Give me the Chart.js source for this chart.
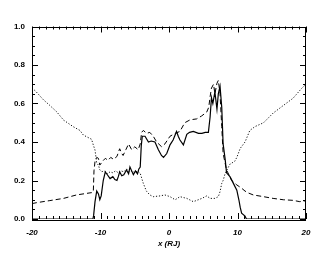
<!DOCTYPE html>
<html>
<head>
<meta charset="utf-8">
<script src="https://cdn.jsdelivr.net/npm/chart.js@4/dist/chart.umd.min.js"></script>
<style>
html,body{margin:0;padding:0;background:#fff;}
#wrap{width:332px;height:261px;}
</style>
</head>
<body>
<div id="wrap"><canvas id="c" width="332" height="261"></canvas></div>
<script>
// x tick labels and y tick labels
const xTickValues = [-20, -10, 0, 10, 20];
const yTickValues = [0.0, 0.2, 0.4, 0.6, 0.8, 1.0];
const xAxisTitle = 'x (RJ)';

// Solid series
const solidX = [-20,-11.1,-11.0,-10.8,-10.55,-10.3,-10.1,-9.9,-9.6,-9.3,-9.0,-8.6,-8.2,-7.9,-7.6,-7.4,-7.2,-6.9,-6.6,-6.2,-5.9,-5.7,-5.45,-5.2,-4.9,-4.6,-4.4,-4.2,-4.05,-3.9,-3.5,-3.0,-2.6,-2.05,-1.55,-1.1,-0.8,-0.33,0.15,0.6,1.1,1.35,1.6,2.1,2.6,3.0,3.55,4.3,4.8,5.3,5.75,6.0,6.2,6.4,6.7,7.0,7.2,7.45,7.7,7.9,8.2,8.4,8.9,9.4,9.9,10.2,10.4,10.6,11.1,11.3,20];
const solidY = [0,0,0.02,0.09,0.145,0.13,0.10,0.12,0.20,0.245,0.23,0.21,0.22,0.205,0.20,0.22,0.245,0.225,0.23,0.255,0.235,0.27,0.25,0.23,0.25,0.235,0.26,0.27,0.38,0.43,0.43,0.40,0.405,0.40,0.36,0.33,0.32,0.34,0.385,0.41,0.455,0.43,0.41,0.385,0.44,0.45,0.455,0.445,0.445,0.45,0.45,0.53,0.63,0.60,0.66,0.57,0.65,0.69,0.58,0.39,0.31,0.24,0.22,0.185,0.15,0.10,0.06,0.03,0.015,0,0];

// Dashed series
const dashedX = [-20,-19.3,-17.5,-15.4,-13.5,-11.3,-11.05,-10.95,-10.8,-10.55,-10.3,-10.1,-9.7,-9.3,-8.9,-8.5,-8.1,-7.6,-7.2,-6.9,-6.7,-6.3,-5.9,-5.45,-5.0,-4.5,-4.2,-4.0,-3.75,-3.25,-2.8,-2.3,-1.8,-1.07,-0.6,0.15,0.9,1.6,2.3,3.07,4.04,4.75,5.5,5.8,6.0,6.2,6.5,6.7,7.0,7.2,7.45,7.7,7.9,8.4,9.15,9.9,10.6,11.1,11.6,12.3,13.8,15.2,16.7,18.1,19.1,20];
const dashedY = [0.08,0.085,0.095,0.107,0.125,0.137,0.14,0.25,0.30,0.32,0.315,0.28,0.30,0.315,0.305,0.32,0.31,0.325,0.365,0.34,0.33,0.36,0.39,0.36,0.375,0.36,0.39,0.45,0.46,0.445,0.45,0.43,0.40,0.375,0.39,0.43,0.445,0.455,0.50,0.515,0.52,0.535,0.555,0.58,0.635,0.68,0.70,0.65,0.705,0.72,0.65,0.48,0.34,0.255,0.20,0.177,0.16,0.145,0.135,0.125,0.116,0.107,0.10,0.097,0.09,0.095];

// Dotted series
const dottedX = [-20,-19.5,-18.35,-17.4,-16.4,-15.4,-14.0,-13.0,-12.5,-11.3,-11.1,-10.8,-10.55,-10.3,-10.1,-9.8,-9.4,-9.0,-8.6,-8.2,-7.8,-7.4,-7.0,-6.6,-6.2,-5.8,-5.4,-5.0,-4.6,-4.2,-3.75,-3.3,-2.8,-2.3,-1.3,-0.6,0.15,0.9,1.6,2.6,3.55,4.8,5.5,6.0,6.7,7.2,7.45,7.7,7.9,8.2,8.9,9.6,9.9,10.4,11.1,11.8,12.55,13.8,15.2,16.7,18.1,19.4,20];
const dottedY = [0.68,0.665,0.62,0.59,0.557,0.514,0.48,0.46,0.436,0.414,0.39,0.358,0.29,0.28,0.255,0.246,0.25,0.235,0.245,0.24,0.25,0.24,0.25,0.245,0.26,0.245,0.25,0.24,0.25,0.237,0.185,0.145,0.125,0.116,0.12,0.125,0.116,0.10,0.116,0.107,0.09,0.107,0.12,0.107,0.107,0.116,0.142,0.185,0.20,0.237,0.285,0.30,0.32,0.367,0.40,0.46,0.48,0.50,0.55,0.59,0.627,0.68,0.70];

function pts(xs, ys){ return xs.map((x,i)=>({x:x, y:ys[i]})); }

const LEFT = 32, RIGHT = 306, TOP = 26.5, BOTTOM = 219;

const framePlugin = {
  id: 'frame',
  afterDatasetsDraw(chart){
    const ctx = chart.ctx, a = chart.chartArea;
    const xs = chart.scales.x, ys = chart.scales.y;
    ctx.save();
    ctx.strokeStyle = '#000';
    ctx.lineWidth = 1;
    ctx.setLineDash([]);
    ctx.strokeRect(Math.round(a.left)+0.5, Math.round(a.top)+0.5, Math.round(a.right-a.left)-1, Math.round(a.bottom-a.top));
    ctx.beginPath();
    for (let v = -20; v <= 20; v += 1) {
      const px = Math.round(xs.getPixelForValue(v)) + 0.5;
      const len = (v % 10 === 0) ? 6 : 3;
      ctx.moveTo(px, a.bottom); ctx.lineTo(px, a.bottom - len);
      ctx.moveTo(px, a.top); ctx.lineTo(px, a.top + len);
    }
    for (let k = 0; k <= 20; k++) {
      const v = k * 0.05;
      const py = Math.round(ys.getPixelForValue(v)) + 0.5;
      const len = (k % 4 === 0) ? 6 : 3;
      ctx.moveTo(a.left, py); ctx.lineTo(a.left + len, py);
      ctx.moveTo(a.right, py); ctx.lineTo(a.right - len, py);
    }
    ctx.stroke();
    ctx.restore();
  }
};

new Chart(document.getElementById('c'), {
  type: 'line',
  data: {
    datasets: [
      { label: 'solid', data: pts(solidX, solidY), borderColor: '#000', borderWidth: 1.2, pointRadius: 0, fill: false, tension: 0 },
      { label: 'dashed', data: pts(dashedX, dashedY), borderColor: '#000', borderWidth: 1, borderDash: [5, 3], pointRadius: 0, fill: false, tension: 0 },
      { label: 'dotted', data: pts(dottedX, dottedY), borderColor: '#111', borderWidth: 1, borderDash: [1.2, 1.8], pointRadius: 0, fill: false, tension: 0 }
    ]
  },
  options: {
    responsive: false,
    animation: false,
    devicePixelRatio: 1,
    layout: { padding: { top: TOP, right: 332 - RIGHT, left: 0, bottom: 0 } },
    plugins: { legend: { display: false }, tooltip: { enabled: false } },
    scales: {
      x: {
        type: 'linear', min: -20, max: 20,
        afterFit(s){ s.height = 261 - BOTTOM; },
        afterBuildTicks(s){ s.ticks = xTickValues.map(v => ({value: v})); },
        grid: { display: false, drawTicks: false },
        border: { display: false },
        ticks: { color: '#000', padding: 9, maxRotation: 0, font: { family: 'Liberation Sans', size: 8, weight: 'bold', style: 'italic' }, callback: v => String(v) },
        title: { display: true, text: xAxisTitle, color: '#000', padding: { top: 2, bottom: 12 }, font: { family: 'Liberation Sans', size: 8, weight: 'bold', style: 'italic' } }
      },
      y: {
        type: 'linear', min: 0, max: 1,
        afterFit(s){ s.width = LEFT; },
        afterBuildTicks(s){ s.ticks = yTickValues.map(v => ({value: v})); },
        grid: { display: false, drawTicks: false },
        border: { display: false },
        ticks: { color: '#000', padding: 7, font: { family: 'Liberation Sans', size: 8, weight: 'bold' }, callback: v => v.toFixed(1) }
      }
    }
  },
  plugins: [framePlugin]
});
</script>
</body>
</html>
